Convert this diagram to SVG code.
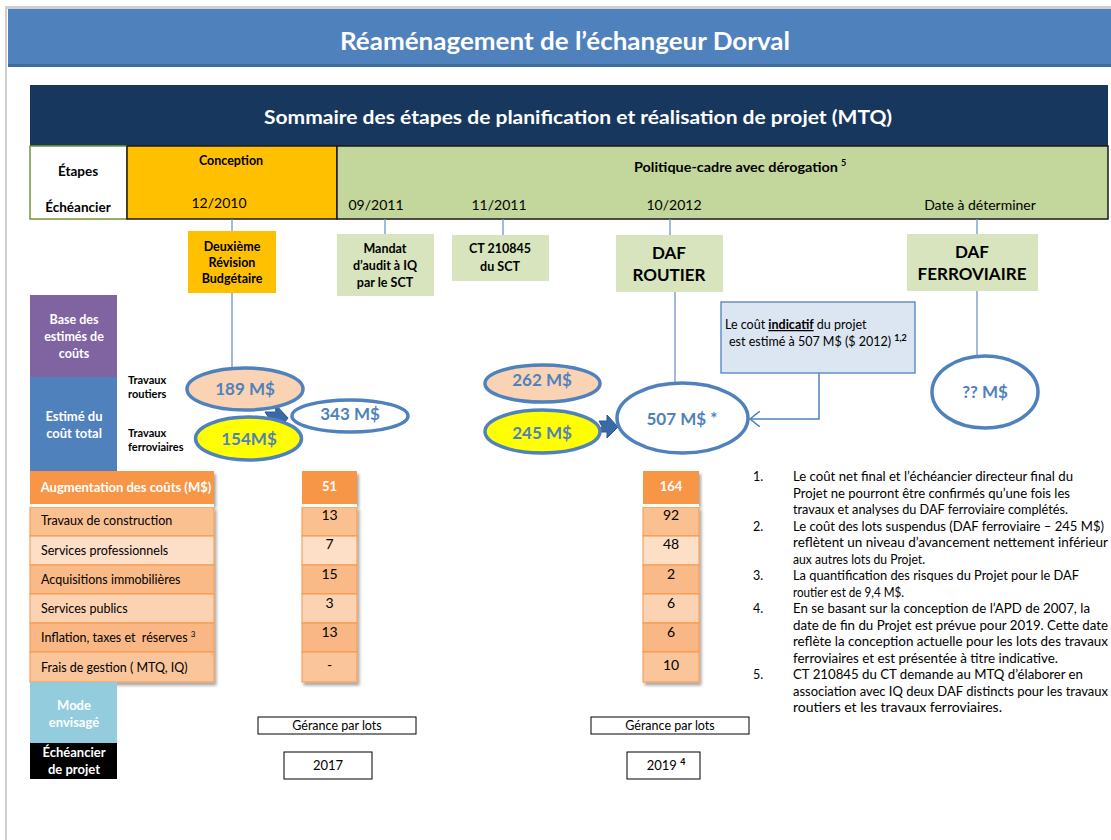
<svg xmlns="http://www.w3.org/2000/svg" width="1111" height="840" viewBox="0 0 1111 840">
<defs>
<style>
text{font-family:Lato,"Liberation Sans",sans-serif;fill:#000}
.b{font-weight:bold}
.w{fill:#fff}
.c{text-anchor:middle}
.lk{stroke:#6F97CC;stroke-width:1.3;fill:none}
.ell{stroke:#4F81BD;stroke-width:3.5}
.et{font-weight:bold;font-size:17px;fill:#4F81BD;text-anchor:middle}
.cell{stroke:#F79646;stroke-width:1}
.rt{font-size:12.5px}
.nt{font-size:12.5px}
.bx{fill:#fff;stroke:#000;stroke-width:1}
</style>
<filter id="sh" x="-20%" y="-10%" width="140%" height="130%">
<feDropShadow dx="2" dy="3" stdDeviation="1.5" flood-color="#000" flood-opacity="0.35"/>
</filter>
<marker id="oa" markerUnits="userSpaceOnUse" markerWidth="12" markerHeight="16" refX="10" refY="8" orient="auto">
<path d="M0,0 L10,8 L0,16" fill="none" stroke="#4F81BD" stroke-width="1.5"/>
</marker>
</defs>
<rect width="1111" height="840" fill="#fff"/>
<rect x="6" y="6" width="1105" height="3" fill="#CFCFCF"/>
<rect x="5" y="6" width="2" height="834" fill="#CFCFCF"/>

<g id="header">
<rect x="8" y="9" width="1103" height="58" fill="#4F81BD"/>
<rect x="8" y="64" width="1103" height="3" fill="#3F6A9E"/>
<text x="565" y="50" class="b w c" font-size="24" textLength="450" lengthAdjust="spacingAndGlyphs">Réaménagement de l’échangeur Dorval</text>
</g>

<g id="sommaire">
<rect x="30" y="85" width="1078" height="61" fill="#17375E"/>
<text x="578" y="124" class="b w c" font-size="18.5" textLength="628" lengthAdjust="spacingAndGlyphs">Sommaire des étapes de planification et réalisation de projet (MTQ)</text>
</g>

<g id="etapes">
<rect x="30" y="146" width="97" height="73" fill="#fff" stroke="#77933C" stroke-width="1.5"/>
<text x="78" y="176" class="b c" font-size="13.5">Étapes</text>
<text x="78" y="212" class="b c" font-size="13.5">Échéancier</text>
</g>
<g id="conception">
<rect x="127" y="146" width="210" height="73" fill="#FFC000" stroke="#1a1a1a" stroke-width="1.5"/>
<text x="231" y="165" class="b c" font-size="12.5">Conception</text>
<text x="219" y="208" class="c" font-size="14">12/2010</text>
</g>
<g id="politique">
<rect x="337" y="146" width="771" height="73" fill="#C3D69B" stroke="#1a1a1a" stroke-width="1.5"/>
<text x="634" y="172" class="b" font-size="13.5" textLength="204" lengthAdjust="spacingAndGlyphs">Politique-cadre avec dérogation</text>
<text x="841" y="166" class="b" font-size="9">5</text>
<text x="376" y="210" class="c" font-size="14">09/2011</text>
<text x="499" y="210" class="c" font-size="14">11/2011</text>
<text x="674" y="210" class="c" font-size="14">10/2012</text>
<text x="980" y="210" class="c" font-size="14">Date à déterminer</text>
</g>

<g id="connectors">
<line class="lk" x1="232" y1="219" x2="232" y2="231"/>
<line class="lk" x1="232" y1="293" x2="232" y2="367"/>
<line class="lk" x1="385" y1="219" x2="385" y2="234"/>
<line class="lk" x1="503" y1="219" x2="503" y2="235"/>
<line class="lk" x1="670" y1="219" x2="670" y2="235"/>
<line class="lk" x1="675" y1="292" x2="675" y2="383"/>
<line class="lk" x1="977" y1="219" x2="977" y2="234"/>
<line class="lk" x1="977" y1="291" x2="977" y2="356"/>
<path d="M819,373 V419 H750" fill="none" stroke="#4F81BD" stroke-width="1.5" marker-end="url(#oa)"/>
<polygon points="265,412 276,412 275,404 288,418 278,431 277,424 266,424 269,418" fill="#3A69A8" stroke="#2C5585" stroke-width="1"/>
<polygon points="599,421 607,421 607,415 618,427 607,438 607,432 599,432 602,426.5" fill="#3A69A8" stroke="#2C5585" stroke-width="1"/>
</g>

<g id="deuxieme">
<rect x="188" y="231" width="88" height="62" fill="#FFC000"/>
<text x="232" y="251" class="b c" font-size="12.5">Deuxième</text>
<text x="232" y="267" class="b c" font-size="12.5">Révision</text>
<text x="232" y="283" class="b c" font-size="12.5">Budgétaire</text>
</g>
<g id="mandat">
<rect x="337" y="234" width="97" height="62" fill="#D7E4BD"/>
<text x="385" y="253" class="b c" font-size="12.5">Mandat</text>
<text x="385" y="270" class="b c" font-size="12.5">d’audit à IQ</text>
<text x="385" y="287" class="b c" font-size="12.5">par le SCT</text>
</g>
<g id="ct">
<rect x="452" y="235" width="97" height="46" fill="#D7E4BD"/>
<text x="500" y="253" class="b c" font-size="12.5">CT 210845</text>
<text x="500" y="271" class="b c" font-size="12.5">du SCT</text>
</g>
<g id="dafroutier">
<rect x="616" y="235" width="107" height="57" fill="#D7E4BD"/>
<text x="669" y="259" class="b c" font-size="17">DAF</text>
<text x="669" y="281" class="b c" font-size="17">ROUTIER</text>
</g>
<g id="dafferro">
<rect x="907" y="234" width="131" height="57" fill="#D7E4BD"/>
<text x="972" y="258" class="b c" font-size="17">DAF</text>
<text x="972" y="280" class="b c" font-size="17">FERROVIAIRE</text>
</g>

<g id="base">
<rect x="30" y="295" width="87" height="82" fill="#8064A2"/>
<text x="74" y="324" class="b w c" font-size="12.5">Base des</text>
<text x="74" y="341" class="b w c" font-size="12.5">estimés de</text>
<text x="74" y="358" class="b w c" font-size="12.5">coûts</text>
</g>
<g id="estime">
<rect x="30" y="377" width="87" height="95" fill="#4F81BD"/>
<text x="74" y="421" class="b w c" font-size="13">Estimé du</text>
<text x="74" y="438" class="b w c" font-size="13">coût total</text>
</g>
<g id="labels">
<text x="128" y="384" class="b" font-size="11">Travaux</text>
<text x="128" y="398" class="b" font-size="11">routiers</text>
<text x="128" y="437" class="b" font-size="11">Travaux</text>
<text x="128" y="451" class="b" font-size="11">ferroviaires</text>
</g>

<g id="e189"><ellipse class="ell" cx="245" cy="389" rx="58" ry="21" fill="#FAD3B4"/><text class="et" x="245" y="395">189 M$</text></g>
<g id="e154"><ellipse class="ell" cx="248.5" cy="438.5" rx="53" ry="21.5" fill="#FFFF00"/><text class="et" x="249" y="445">154M$</text></g>
<g id="e343"><ellipse class="ell" cx="350" cy="416" rx="58" ry="16" fill="#fff"/><text class="et" x="350" y="420">343 M$</text></g>
<g id="e262"><ellipse class="ell" cx="542.5" cy="383.5" rx="57.5" ry="18.5" fill="#FAD3B4"/><text class="et" x="542" y="386">262 M$</text></g>
<g id="e245"><ellipse class="ell" cx="542.5" cy="431.5" rx="57.5" ry="21.5" fill="#FFFF00"/><text class="et" x="542" y="439">245 M$</text></g>
<g id="e507"><ellipse class="ell" cx="682.5" cy="418" rx="65.5" ry="35" fill="#fff"/><text class="et" x="682" y="425">507 M$ *</text></g>
<g id="eqq"><ellipse class="ell" cx="985" cy="392" rx="53" ry="36" fill="#fff"/><text class="et" x="985" y="398">?? M$</text></g>

<g id="note">
<rect x="721" y="302" width="194" height="71" fill="#DCE6F2" stroke="#4F81BD" stroke-width="1.3"/>
<text x="725" y="329" font-size="12.5">Le coût <tspan class="b" text-decoration="underline">indicatif</tspan> du projet</text>
<text x="729" y="346" font-size="12.5">est estimé à 507 M$ ($ 2012) <tspan class="b" font-size="9" dy="-5">1,2</tspan></text>
</g>

<g id="table-labels" filter="url(#sh)">
<rect x="30" y="471" width="184" height="34" fill="#F79646"/>
<rect class="cell" x="30" y="507" width="184" height="29" fill="#FAC090"/>
<rect class="cell" x="30" y="536" width="184" height="29" fill="#FDDEC6"/>
<rect class="cell" x="30" y="565" width="184" height="29" fill="#F9BA88"/>
<rect class="cell" x="30" y="594" width="184" height="29" fill="#FCD3B2"/>
<rect class="cell" x="30" y="623" width="184" height="29" fill="#F9B786"/>
<rect class="cell" x="30" y="652" width="184" height="30" fill="#FBC59B"/>
</g>
<g id="table-label-text">
<rect x="30" y="504" width="184" height="3" fill="#fff"/>
<text x="126" y="492" class="b w c" font-size="13">Augmentation des coûts (M$)</text>
<text x="41" y="525" class="rt">Travaux de construction</text>
<text x="41" y="555" class="rt">Services professionnels</text>
<text x="41" y="584" class="rt">Acquisitions immobilières</text>
<text x="41" y="613" class="rt">Services publics</text>
<text x="41" y="642" class="rt" xml:space="preserve">Inflation, taxes et  réserves <tspan font-size="8" dy="-5">3</tspan></text>
<text x="41" y="672" class="rt">Frais de gestion ( MTQ, IQ)</text>
</g>

<g id="col2017" filter="url(#sh)">
<rect x="302" y="471" width="55" height="34" fill="#F79646"/>
<rect class="cell" x="302" y="507" width="55" height="29" fill="#FAC090"/>
<rect class="cell" x="302" y="536" width="55" height="29" fill="#FDDEC6"/>
<rect class="cell" x="302" y="565" width="55" height="29" fill="#F9BA88"/>
<rect class="cell" x="302" y="594" width="55" height="29" fill="#FCD3B2"/>
<rect class="cell" x="302" y="623" width="55" height="29" fill="#F9B786"/>
<rect class="cell" x="302" y="652" width="55" height="30" fill="#FBC59B"/>
</g>
<g id="col2017-text">
<rect x="302" y="504" width="55" height="3" fill="#fff"/>
<text x="329.5" y="491" class="b w c" font-size="13">51</text>
<text x="329.5" y="520" class="c" font-size="14">13</text>
<text x="329.5" y="549" class="c" font-size="14">7</text>
<text x="329.5" y="579" class="c" font-size="14">15</text>
<text x="329.5" y="608" class="c" font-size="14">3</text>
<text x="329.5" y="637" class="c" font-size="14">13</text>
<text x="329.5" y="670" class="c" font-size="14">-</text>
</g>

<g id="col2019" filter="url(#sh)">
<rect x="643" y="471" width="56" height="34" fill="#F79646"/>
<rect class="cell" x="643" y="507" width="56" height="29" fill="#FAC090"/>
<rect class="cell" x="643" y="536" width="56" height="29" fill="#FDDEC6"/>
<rect class="cell" x="643" y="565" width="56" height="29" fill="#F9BA88"/>
<rect class="cell" x="643" y="594" width="56" height="29" fill="#FCD3B2"/>
<rect class="cell" x="643" y="623" width="56" height="29" fill="#F9B786"/>
<rect class="cell" x="643" y="652" width="56" height="30" fill="#FBC59B"/>
</g>
<g id="col2019-text">
<rect x="643" y="504" width="56" height="3" fill="#fff"/>
<text x="671" y="491" class="b w c" font-size="13">164</text>
<text x="671" y="520" class="c" font-size="14">92</text>
<text x="671" y="549" class="c" font-size="14">48</text>
<text x="671" y="579" class="c" font-size="14">2</text>
<text x="671" y="608" class="c" font-size="14">6</text>
<text x="671" y="637" class="c" font-size="14">6</text>
<text x="671" y="670" class="c" font-size="14">10</text>
</g>

<g id="notes" class="nt">
<text x="753" y="481" class="nt">1.</text>
<text x="793" y="481" class="nt" textLength="280" lengthAdjust="spacingAndGlyphs">Le coût net final et l’échéancier directeur final du</text>
<text x="793" y="497.5" class="nt" textLength="277" lengthAdjust="spacingAndGlyphs">Projet ne pourront être confirmés qu’une fois les</text>
<text x="793" y="514" class="nt" textLength="275" lengthAdjust="spacingAndGlyphs">travaux et analyses du DAF ferroviaire complétés.</text>
<text x="753" y="530.5" class="nt">2.</text>
<text x="793" y="530.5" class="nt" textLength="311" lengthAdjust="spacingAndGlyphs">Le coût des lots suspendus (DAF ferroviaire – 245 M$)</text>
<text x="793" y="547" class="nt" textLength="315" lengthAdjust="spacingAndGlyphs">reflètent un niveau d’avancement nettement inférieur</text>
<text x="793" y="563.5" class="nt" textLength="132" lengthAdjust="spacingAndGlyphs">aux autres lots du Projet.</text>
<text x="753" y="580" class="nt">3.</text>
<text x="793" y="580" class="nt" textLength="286" lengthAdjust="spacingAndGlyphs">La quantification des risques du Projet pour le DAF</text>
<text x="793" y="596.5" class="nt" textLength="111" lengthAdjust="spacingAndGlyphs">routier est de 9,4 M$.</text>
<text x="753" y="613" class="nt">4.</text>
<text x="793" y="613" class="nt" textLength="297" lengthAdjust="spacingAndGlyphs">En se basant sur la conception de l’APD de 2007, la</text>
<text x="793" y="629.5" class="nt" textLength="315" lengthAdjust="spacingAndGlyphs">date de fin du Projet est prévue pour 2019. Cette date</text>
<text x="793" y="646" class="nt" textLength="315" lengthAdjust="spacingAndGlyphs">reflète la conception actuelle pour les lots des travaux</text>
<text x="793" y="662.5" class="nt" textLength="265" lengthAdjust="spacingAndGlyphs">ferroviaires et est présentée à titre indicative.</text>
<text x="753" y="679" class="nt">5.</text>
<text x="793" y="679" class="nt" textLength="290" lengthAdjust="spacingAndGlyphs">CT 210845 du CT demande au MTQ d’élaborer en</text>
<text x="793" y="695.5" class="nt" textLength="315" lengthAdjust="spacingAndGlyphs">association avec IQ deux DAF distincts pour les travaux</text>
<text x="793" y="712" class="nt" textLength="209" lengthAdjust="spacingAndGlyphs">routiers et les travaux ferroviaires.</text>
</g>

<g id="mode">
<rect x="30" y="682" width="87" height="61" fill="#93CDDD"/>
<text x="74" y="710" class="b w c" font-size="13">Mode</text>
<text x="74" y="727" class="b w c" font-size="13">envisagé</text>
</g>
<g id="echeancier-projet">
<rect x="30" y="743" width="87" height="36" fill="#000"/>
<text x="74" y="757" class="b w c" font-size="13">Échéancier</text>
<text x="74" y="774" class="b w c" font-size="13">de projet</text>
</g>
<g id="gerance1">
<rect class="bx" x="258" y="717" width="158" height="17"/>
<text x="337" y="730" class="c" font-size="12.5">Gérance par lots</text>
</g>
<g id="gerance2">
<rect class="bx" x="591" y="717" width="158" height="17"/>
<text x="670" y="730" class="c" font-size="12.5">Gérance par lots</text>
</g>
<g id="an2017">
<rect class="bx" x="284" y="752" width="88" height="27"/>
<text x="328" y="770" class="c" font-size="13">2017</text>
</g>
<g id="an2019">
<rect class="bx" x="627" y="752" width="73" height="27"/>
<text x="666" y="770" class="c" font-size="13">2019 <tspan class="b" font-size="9" dy="-5">4</tspan></text>
</g>
</svg>
